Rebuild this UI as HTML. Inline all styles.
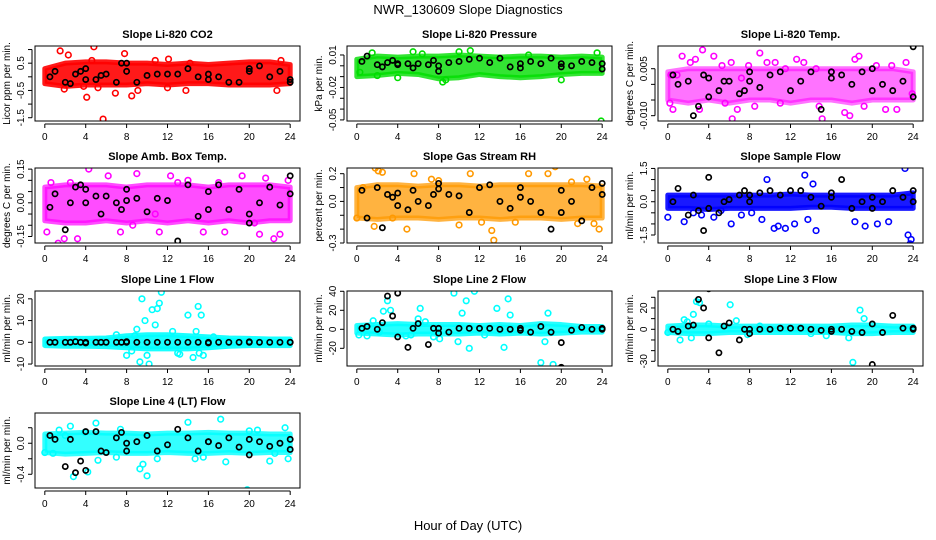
<!DOCTYPE html>
<html><head><meta charset="utf-8"><style>
html,body{margin:0;padding:0;background:#fff}
svg{display:block;font-family:"Liberation Sans",sans-serif}
</style></head><body>
<svg id="chart" width="936" height="540" viewBox="0 0 936 540">
<text x="468" y="14" text-anchor="middle" font-size="13">NWR_130609  Slope Diagnostics</text>
<text x="468" y="530" text-anchor="middle" font-size="13">Hour of Day (UTC)</text>
</svg>
<script>
const bandHours = [0,2,4,6,8,10,12,14,16,18,20,22,24];
const blackHours = [0.5,1,2,2.5,3,3.5,4,4,5,5.5,6,7,7.5,8,8,9,10,11,12,13,14,15,16,16,17,18,19,20,20,21,22,23,24,24];
const xTicks = [0,4,8,12,16,20,24];

// CO2
const co2Lo = [-0.25,-0.35,-0.3,-0.3,-0.3,-0.25,-0.3,-0.25,-0.25,-0.3,-0.3,-0.3,-0.25];
const co2Hi = [0.3,0.5,0.55,0.55,0.5,0.5,0.45,0.5,0.45,0.5,0.55,0.55,0.45];
const co2OutX = [1.5,4.8,5.7,4.1,6.9,7.8,8.5,12,13.8,22.7,2.3,9.1,5.2,4.6,1.9,3.8,10.8,12.1,23.1,14.2];
const co2OutY = [0.95,1.1,-1.55,-0.75,-0.6,0.85,-0.7,-0.4,-0.5,-0.5,0.8,-0.5,-0.4,0.6,-0.45,-0.35,0.6,0.65,0.6,0.5];
const co2Blk = [0.0,0.2,-0.2,-0.25,0.1,0.2,0.3,-0.1,-0.1,0.05,0.1,-0.2,0.5,0.5,0.2,-0.2,0.05,0.1,0.1,0.1,0.3,0.0,-0.1,0.1,0.0,-0.2,-0.2,0.3,0.2,0.4,0.0,0.2,-0.1,-0.2];
// Pressure
const prLo = [-0.01,-0.009,-0.007,-0.008,-0.012,-0.011,-0.008,-0.01,-0.011,-0.01,-0.008,-0.007,-0.007];
const prHi = [0.006,0.009,0.008,0.009,0.009,0.01,0.009,0.008,0.009,0.009,0.008,0.009,0.008];
const prOutX = [8,16,23.9,1.5,4,20,5.5,10,2,8.7,11.1,16.8,23.5,8.4,0.3,6.4];
const prOutY = [-0.054,-0.057,-0.051,0.012,-0.011,-0.013,0.013,0.013,-0.009,-0.013,0.014,0.01,0.012,-0.015,-0.006,0.011];
const prBlk = [0.004,0.009,0.001,-0.001,0.003,0.005,0.001,0.002,0.002,-0.002,0.002,0.001,0.005,0.0,-0.005,0.003,0.004,0.006,0.007,0.003,0.007,-0.001,-0.002,0.002,0.004,0.002,0.007,0.002,-0.001,0.0,0.004,0.003,0.002,-0.003];
// Li-820 Temp
const tLo = [-0.005,-0.006,-0.005,-0.006,-0.005,-0.005,-0.006,-0.005,-0.005,-0.006,-0.005,-0.005,-0.005];
const tHi = [0.004,0.005,0.005,0.005,0.005,0.005,0.005,0.005,0.005,0.005,0.005,0.005,0.004];
const tOutX = [0.2,0.5,0.9,1.4,2.2,3.1,3.4,4.5,5.3,6.2,6.3,6.8,7.2,8.5,9,9.7,10.5,11.5,12.6,13.3,14.8,15.1,16,17.3,17.8,18.7,19.2,20.4,21.3,21.9,22.4,23.3,0.3,2.7,5.6,7.9,11,14.5,18.3,23.9];
const tOutY = [-0.006,-0.008,0.003,0.009,0.007,-0.008,0.011,0.009,0.006,0.007,-0.011,-0.008,0.002,-0.007,0.010,0.007,0.007,0.005,0.008,0.007,-0.007,-0.011,0.004,-0.009,-0.010,0.009,-0.007,0.006,-0.008,0.006,-0.008,0.007,0.003,0.008,-0.006,0.006,-0.006,0.005,0.008,-0.003];
const tBlk = [0.003,0.0,0.001,-0.010,-0.007,0.003,0.002,-0.004,-0.002,0.001,0.001,-0.003,-0.002,0.001,0.004,-0.001,0.003,0.004,-0.002,0.001,0.004,-0.008,0.004,0.002,0.003,0.000,0.004,-0.002,0.005,0.0,-0.002,0.001,-0.004,0.012];
// Amb box temp
const aLo = [-0.08,-0.09,-0.09,-0.08,-0.09,-0.08,-0.09,-0.08,-0.09,-0.08,-0.09,-0.08,-0.08];
const aHi = [0.07,0.08,0.08,0.08,0.07,0.08,0.08,0.08,0.07,0.08,0.08,0.08,0.07];
const aOutX = [0.2,1.3,1.9,3.2,4.3,5,5.8,6.2,8.6,9,10.8,11.2,12.3,13,14,17,17.6,19.3,21,21.6,22.4,23,0.6,2.5,7.4,15.5,20.5,23.8];
const aOutY = [-0.13,-0.18,-0.16,-0.16,0.15,-0.22,-0.24,0.12,-0.1,0.13,-0.05,-0.13,0.12,0.09,0.1,0.09,-0.13,0.12,-0.14,0.11,-0.16,-0.14,0.09,0.09,-0.13,-0.13,-0.09,0.1];
const aBlk = [-0.02,0.04,-0.12,0.0,0.07,0.08,0.0,0.06,0.03,-0.05,0.03,0.0,-0.03,0.06,0.01,0.02,-0.04,0.02,0.01,-0.17,0.08,-0.06,-0.03,0.05,0.08,-0.03,0.06,-0.05,-0.09,0.0,0.07,-0.01,0.04,0.12];
// Gas stream RH
const rhLo = [-0.12,-0.13,-0.12,-0.12,-0.13,-0.12,-0.12,-0.13,-0.12,-0.12,-0.13,-0.12,-0.12];
const rhHi = [0.1,0.12,0.12,0.11,0.12,0.12,0.11,0.12,0.12,0.12,0.12,0.12,0.11];
const rhOutX = [0,0.6,1.8,2.1,2.5,3.5,5.6,7.3,8,10,11.1,12.2,13.2,13.4,15.5,18.7,19.4,21,21.6,22.5,23.2,23.7,1.7,4.9,16.8];
const rhOutY = [-0.12,0.1,0.24,0.22,0.21,-0.12,0.2,0.16,0.15,-0.17,0.2,-0.15,-0.21,-0.28,-0.15,0.2,0.25,0.14,-0.16,0.16,-0.16,-0.2,-0.18,-0.2,0.2];
const rhBlk = [0.08,-0.12,0.1,-0.19,0.05,0.03,-0.03,0.06,-0.06,0.08,0.0,-0.03,0.05,0.09,0.13,0.05,0.04,-0.08,0.1,0.12,0.0,-0.05,0.1,0.03,0.0,-0.08,-0.2,0.08,-0.08,0.0,-0.14,0.1,0.05,0.13];
// Sample flow
const sfLo = [-0.3,-0.3,-0.35,-0.3,-0.3,-0.3,-0.3,-0.25,-0.25,-0.3,-0.3,-0.3,-0.3];
const sfHi = [0.3,0.3,0.3,0.3,0.3,0.3,0.35,0.3,0.3,0.3,0.3,0.3,0.4];
const sfOutX = [0,1.6,2.5,3.3,4.5,5.2,6.2,7.2,8.2,9.7,10.4,10.8,11.5,12.4,13.4,13.7,14.2,14.5,18.3,19.3,20.5,21.6,23.2,23.5,23.7,23.8,9.2];
const sfOutY = [-0.7,-0.9,-0.5,-0.6,-0.7,-0.4,-1.0,-0.6,-0.5,1.0,-1.2,-1.1,-1.2,-1.0,1.2,-0.8,0.8,-1.3,-0.9,-1.1,-1.0,-0.9,1.5,-1.5,-1.9,-1.7,-0.8];
const sfBlk = [0.0,0.6,-0.6,0.3,-0.4,-1.3,-0.3,1.1,-0.5,0.0,0.1,0.3,0.5,0.3,0.0,0.4,0.5,0.3,0.5,0.5,0.2,-0.2,0.4,0.2,1.0,-0.3,0.0,-0.3,0.2,0.0,0.5,0.2,0.0,0.5];
// Line 1
const l1Lo = [-1.5,-1.8,-1.8,-2,-2.5,-3,-3,-3,-2.5,-1.8,-1.5,-1.5,-1.5];
const l1Hi = [1.5,1.8,1.8,2,3,3.5,3.5,3,2.5,2,1.8,1.5,1.5];
const l1OutX = [8,8.5,9,9.3,9.5,9.8,10,10.2,10.5,10.8,11,11.2,11.4,12.5,13,13.2,14,14.5,14.8,15,15.1,15.3,15.5,7,8.8,16.5];
const l1OutY = [-6,-4,6,-9,20,10,-6,-10,15,8,15.5,18,23,5,-5,-5.5,12.5,-7,5,16.5,-5,12.5,-6,3.5,3,2.5];
const l1Blk = [0,0,0,0,0.3,0,0,-0.3,0,0,0,0,0,0,0.3,0,0,0,0,0,0,0,0,-0.3,0,0,0,0,0.2,0,0,0,0,0];
// Line 2
const l2Lo = [-4,-5,-6,-5,-5,-5,-4,-5,-4,-5,-4,-3,-3];
const l2Hi = [4,5,6,5,5,5,4,5,4,6,5,3,3];
const l2OutX = [0.2,1,1.6,2.2,3,3.3,4.8,5.3,6,6.2,7.5,8.1,9.5,9.9,10.3,10.7,11,11.5,13.7,14.4,14.8,15,18,18.4,18.7,19.2,6.7,12.5,2.6];
const l2OutY = [-6,-7,9,-3,30,20,-7,-6,11,22,-8,-10,38,-13,17,30,-20,40,22,-19,32,15,-35,-13,17,-37,8,-6,19];
const l2Blk = [1,3,0,7,35,14,-8,38,-19,1,6,-16,1,1,-4,-3,1,1,1,1,0,0,-1,1,-3,3,-3,-40,-14,-1,2,0,1,0];
// Line 3
const l3Lo = [-3,-4,-4,-3,-3,-3,-3,-3,-3,-4,-4,-3,-3];
const l3Hi = [3,4,4,3,3,3,3,3,3,4,4,3,3];
const l3OutX = [0,1.2,1.6,2.3,2.5,3.1,6.1,6.7,7.8,14,15.5,17.7,18.1,18.8,19.2,1.9,9,4,2.8];
const l3OutY = [-3,-10,9,-8,14,25,23,8,-5,-4,-6,-8,-31,18,10,7,3,5,26];
const l3Blk = [0,-2,3,4,28,20,-8,38,-22,3,6,-10,0,0,-4,0,0,1,1,1,0,-1,-2,0,0,-2,-3,5,-33,-3,13,1,0,1];
// Line 4
const l4Lo = [-0.12,-0.14,-0.13,-0.12,-0.13,-0.13,-0.12,-0.13,-0.13,-0.12,-0.13,-0.12,-0.12];
const l4Hi = [0.12,0.13,0.14,0.13,0.13,0.12,0.13,0.13,0.14,0.13,0.13,0.12,0.12];
const l4OutX = [0,0.8,1.4,2.5,2.8,3.9,4.2,5,5.2,7,7.4,9.3,9.6,10,11,14,14.7,15.5,17.2,17.7,19.8,20,20.8,22,22.5,23.5,23.8,2];
const l4OutY = [-0.12,-0.13,0.17,0.22,-0.43,0.14,-0.37,0.26,-0.22,-0.18,0.18,-0.33,-0.27,-0.42,-0.2,0.27,-0.2,-0.18,0.31,-0.24,-0.6,0.16,0.17,-0.23,-0.13,0.2,-0.2,0.1];
const l4Blk = [0.1,0.05,-0.3,0.05,-0.38,-0.23,0.15,-0.35,0.15,-0.1,-0.12,0.07,0.14,-0.1,0.0,0.02,0.1,-0.1,-0.02,0.18,0.07,-0.1,0.02,0.02,-0.03,0.07,-0.05,0.05,-0.15,0.02,-0.04,0.0,0.05,-0.08];

const NS = 'http://www.w3.org/2000/svg';
const svg = document.getElementById('chart');
function mk(tag, attrs, parent){ const e=document.createElementNS(NS,tag); for(const k in attrs) e.setAttribute(k,attrs[k]); (parent||svg).appendChild(e); return e; }

const cols=[[35,300],[347,612],[658,923]];
const rows=[[46,121],[168,243],[291,366],[413,488]];
const panels=[
 {id:'co2',c:0,r:0,op:0.9,title:'Slope Li-820 CO2',ylab:'Licor ppm per min.',ymin:-1.62,ymax:1.13,ticks:[-1.5,-1,-0.5,0,0.5,1],labels:[[-1.5,'-1.5'],[-0.5,'-0.5'],[0.5,'0.5']],col:'#ff0000',lo:co2Lo,hi:co2Hi,ox:co2OutX,oy:co2OutY,bk:co2Blk},
 {id:'pressure',c:1,r:0,op:0.8,title:'Slope Li-820 Pressure',ylab:'kPa per min.',ymin:-0.051,ymax:0.0183,ticks:[0.01,0,-0.01,-0.02,-0.03,-0.04,-0.05],labels:[[0.01,'0.01'],[-0.02,'-0.02'],[-0.05,'-0.05']],col:'#00dd00',lo:prLo,hi:prHi,ox:prOutX,oy:prOutY,bk:prBlk},
 {id:'li820-temp',c:2,r:0,op:0.55,title:'Slope Li-820 Temp.',ylab:'degrees C per min.',ymin:-0.0117,ymax:0.01225,ticks:[0.005,0,-0.005,-0.01],labels:[[0.005,'0.005'],[-0.01,'-0.010']],col:'#ff00ff',lo:tLo,hi:tHi,ox:tOutX,oy:tOutY,bk:tBlk},
 {id:'amb-box-temp',c:0,r:1,op:0.7,title:'Slope Amb. Box Temp.',ylab:'degrees C per min.',ymin:-0.179,ymax:0.155,ticks:[0.15,0.1,0.05,0,-0.05,-0.1,-0.15],labels:[[0.15,'0.15'],[0,'0.00'],[-0.15,'-0.15']],col:'#ff00ff',lo:aLo,hi:aHi,ox:aOutX,oy:aOutY,bk:aBlk},
 {id:'gas-stream-rh',c:1,r:1,op:0.75,title:'Slope Gas Stream RH',ylab:'percent per min.',ymin:-0.3,ymax:0.241,ticks:[0.2,0.1,0,-0.1,-0.2,-0.3],labels:[[0.2,'0.2'],[0,'0.0'],[-0.3,'-0.3']],col:'#ff9900',lo:rhLo,hi:rhHi,ox:rhOutX,oy:rhOutY,bk:rhBlk},
 {id:'sample-flow',c:2,r:1,op:0.9,title:'Slope Sample Flow',ylab:'ml/min per min.',ymin:-1.86,ymax:1.52,ticks:[1.5,1,0.5,0,-0.5,-1,-1.5],labels:[[1.5,'1.5'],[0,'0.0'],[-1.5,'-1.5']],col:'#0000ff',lo:sfLo,hi:sfHi,ox:sfOutX,oy:sfOutY,bk:sfBlk},
 {id:'line1-flow',c:0,r:2,op:0.9,title:'Slope Line 1 Flow',ylab:'ml/min per min.',ymin:-10.9,ymax:23.6,ticks:[20,10,0,-10],labels:[[20,'20'],[10,'10'],[0,'0'],[-10,'-10']],col:'#00ffff',lo:l1Lo,hi:l1Hi,ox:l1OutX,oy:l1OutY,bk:l1Blk},
 {id:'line2-flow',c:1,r:2,op:0.85,title:'Slope Line 2 Flow',ylab:'ml/min per min.',ymin:-38.6,ymax:40.3,ticks:[40,20,0,-20],labels:[[40,'40'],[20,'20'],[0,'0'],[-20,'-20']],col:'#00ffff',lo:l2Lo,hi:l2Hi,ox:l2OutX,oy:l2OutY,bk:l2Blk},
 {id:'line3-flow',c:2,r:2,op:0.85,title:'Slope Line 3 Flow',ylab:'ml/min per min.',ymin:-34.4,ymax:35.9,ticks:[30,20,10,0,-10,-20,-30],labels:[[20,'20'],[0,'0'],[-30,'-30']],col:'#00ffff',lo:l3Lo,hi:l3Hi,ox:l3OutX,oy:l3OutY,bk:l3Blk},
 {id:'line4-flow',c:0,r:3,op:0.8,title:'Slope Line 4 (LT) Flow',ylab:'ml/min per min.',ymin:-0.577,ymax:0.39,ticks:[0.2,0,-0.2,-0.4],labels:[[0,'0.0'],[-0.4,'-0.4']],col:'#00ffff',lo:l4Lo,hi:l4Hi,ox:l4OutX,oy:l4OutY,bk:l4Blk}
];

panels.forEach(p=>{
  const [L,R]=cols[p.c], [T,B]=rows[p.r];
  const xs=h=>L+(h+0.96)/25.92*(R-L);
  const ys=v=>B-(v-p.ymin)/(p.ymax-p.ymin)*(B-T);
  const g=mk('g',{});
  
  
  const cid='clip-'+p.id;
  const cp=mk('clipPath',{id:cid},g); mk('rect',{x:L,y:T,width:R-L,height:B-T},cp);
  const t=mk('text',{x:(L+R)/2,y:T-8,'text-anchor':'middle','font-size':'11','font-weight':'bold'},g);
  t.textContent=p.title;
  
  
  const yl=mk('text',{x:0,y:0,'text-anchor':'middle','font-size':'10',transform:`translate(${L-25},${(T+B)/2}) rotate(-90)`},g);
  yl.textContent=p.ylab;
  
  
  const d=mk('g',{'clip-path':`url(#${cid})`},g);
  let pts=bandHours.map((h,i)=>xs(h)+','+ys(p.hi[i]));
  pts=pts.concat(bandHours.map((h,i)=>xs(h)+','+ys(p.lo[i])).reverse());
  const band=mk('polygon',{points:pts.join(' '),fill:p.col,stroke:p.col,'stroke-width':'5','stroke-linejoin':'round','fill-opacity':p.op,'stroke-opacity':p.op},d);
  
  
  p.ox.forEach((h,i)=>{
    const c=mk('circle',{cx:xs(h),cy:ys(p.oy[i]),r:2.8,fill:'none',stroke:p.col,'stroke-width':'1.6'},d);
    
    
  });
  blackHours.forEach((h,i)=>{
    const c=mk('circle',{cx:xs(h),cy:ys(p.bk[i]),r:2.6,fill:'none',stroke:'#000','stroke-width':'1.7'},d);
    
    
  });
  const box=mk('rect',{x:L,y:T,width:R-L,height:B-T,fill:'none',stroke:'#000','stroke-width':'1'},g);
  
  
  const ax=B+3;
  mk('line',{x1:xs(0),x2:xs(24),y1:ax,y2:ax,stroke:'#000'},g);
  xTicks.forEach(v=>{
    mk('line',{x1:xs(v),x2:xs(v),y1:ax,y2:ax+4,stroke:'#000'},g);
    const tl=mk('text',{x:xs(v),y:ax+16,'text-anchor':'middle','font-size':'10'},g);
    tl.textContent=v;
    
    
  });
  const lx=L-3;
  const tv=p.ticks.map(ys);
  mk('line',{x1:lx,x2:lx,y1:Math.min(...tv),y2:Math.max(...tv),stroke:'#000'},g);
  p.ticks.forEach(v=>mk('line',{x1:lx-4,x2:lx,y1:ys(v),y2:ys(v),stroke:'#000'},g));
  p.labels.forEach(([v,s])=>{
    const tl=mk('text',{x:0,y:0,'text-anchor':'middle','font-size':'10',transform:`translate(${L-11},${ys(v)}) rotate(-90)`},g);
    tl.textContent=s;
    
    
  });
});
</script>
</body></html>
